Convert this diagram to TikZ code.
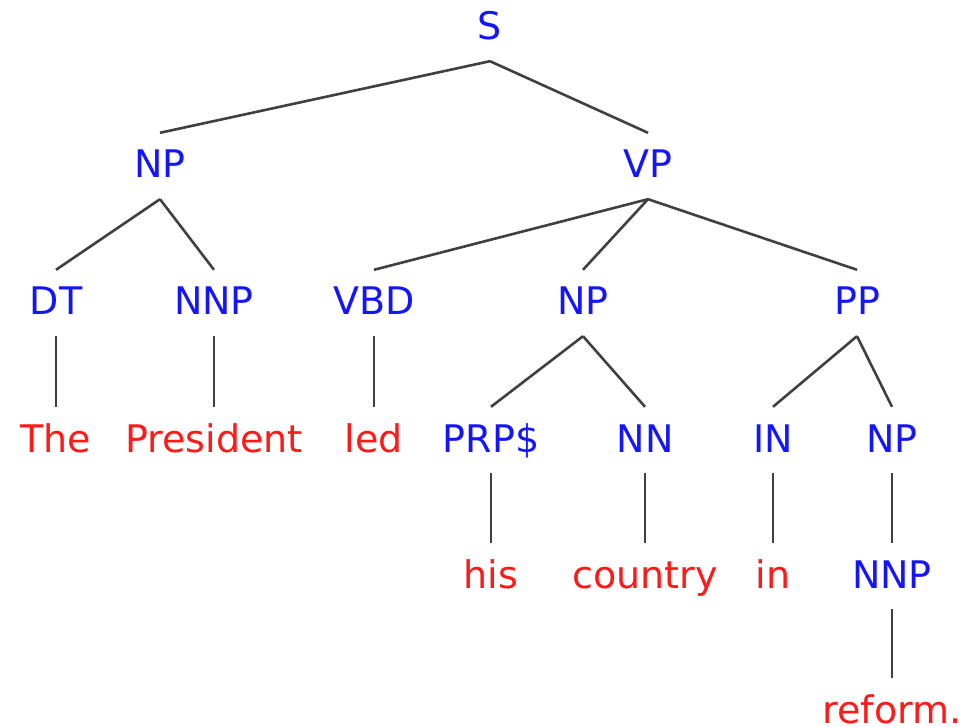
\documentclass[tikz,border=0pt]{standalone}
\usepackage{fontspec}
\setmainfont{DejaVu Sans}
\usetikzlibrary{positioning}
\definecolor{catblue}{RGB}{20,20,255}
\definecolor{wordred}{RGB}{255,25,25}
\definecolor{branchgray}{RGB}{64,64,64}

\begin{document}
\begin{tikzpicture}[x=1pt,y=-1pt,
  every node/.style={font=\fontsize{38}{40}\selectfont,anchor=base,inner xsep=0pt,inner ysep=17pt,text height=28pt,text depth=4pt},
  cat/.style={text=catblue},
  word/.style={text=wordred},
  branch/.style={draw=branchgray,line width=2.6pt}]
\useasboundingbox (0,0) rectangle (975,727);
% phrase labels
\node[cat] (s) at (490,40) {S};
\node[cat] (np) at (160,178) {NP};
\node[cat] (vp) at (648,178) {VP};
\node[cat] (dt) at (56,315) {DT};
\node[cat] (nnp) at (214,315) {NNP};
\node[cat] (vbd) at (374,315) {VBD};
\node[cat] (npo) at (583,315) {NP};
\node[cat] (pp) at (857,315) {PP};
\node[cat] (prp) at (491,452) {PRP\$};
\node[cat] (nn) at (645,452) {NN};
\node[cat] (inp) at (773,452) {IN};
\node[cat] (npp) at (892,452) {NP};
\node[cat] (nnpr) at (892,588) {NNP};
% words
\node[word] (the) at (56,452) {The};
\node[word] (pres) at (214,452) {President};
\node[word] (led) at (374,452) {led};
\node[word] (his) at (491,588) {his};
\node[word] (ctry) at (645,588) {country};
\node[word] (inw) at (773,588) {in};
\node[word] (reform) at (892,723) {reform.};
% branches
\draw[branch] (s.south) -- (np.north);
\draw[branch] (s.south) -- (vp.north);
\draw[branch] (np.south) -- (dt.north);
\draw[branch] (np.south) -- (nnp.north);
\draw[branch] (vp.south) -- (vbd.north);
\draw[branch] (vp.south) -- (npo.north);
\draw[branch] (vp.south) -- (pp.north);
\draw[branch] (dt.south) -- (the.north);
\draw[branch] (nnp.south) -- (pres.north);
\draw[branch] (vbd.south) -- (led.north);
\draw[branch] (npo.south) -- (prp.north);
\draw[branch] (npo.south) -- (nn.north);
\draw[branch] (pp.south) -- (inp.north);
\draw[branch] (pp.south) -- (npp.north);
\draw[branch] (prp.south) -- (his.north);
\draw[branch] (nn.south) -- (ctry.north);
\draw[branch] (inp.south) -- (inw.north);
\draw[branch] (npp.south) -- (nnpr.north);
\draw[branch] (nnpr.south) -- (reform.north);
\end{tikzpicture}
\end{document}
